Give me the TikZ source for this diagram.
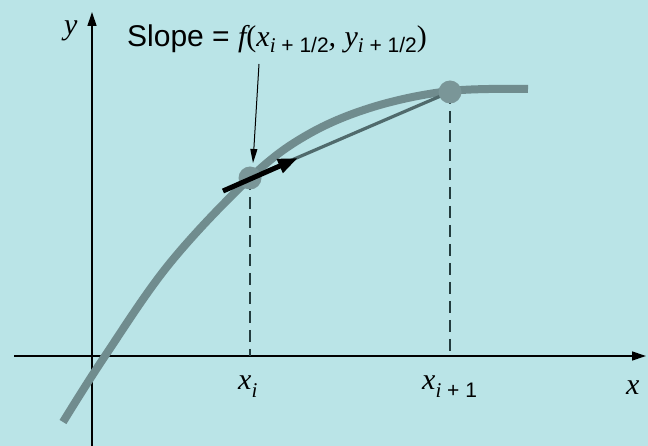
\documentclass[tikz,border=0pt]{standalone}
\usepackage{fontspec}
\setmainfont{Liberation Sans}
\newfontfamily\tim{Liberation Serif}
\usetikzlibrary{arrows.meta}
\definecolor{bgc}{RGB}{186,228,231}
\definecolor{curvec}{RGB}{112,140,142}
\definecolor{dotc}{RGB}{122,150,152}
\definecolor{slc}{RGB}{80,106,108}
\definecolor{dashc}{RGB}{35,60,62}
\newcommand\mi[1]{{\tim\itshape #1}}
\newcommand\sbs[2]{\raisebox{-#1}{\fontsize{21}{21}\selectfont #2}}
\tikzset{
  axis/.style={line width=1.3pt, black, -{Triangle[length=14pt,width=9pt]}},
  curvest/.style={line width=8pt, curvec},
  dashln/.style={line width=2.2pt, dashc, dash pattern=on 12pt off 7pt},
  dotst/.style={circle, fill=dotc, minimum size=23pt, inner sep=0pt},
  slst/.style={line width=3.2pt, slc},
  tanst/.style={line width=5pt, black, -{Triangle[length=20pt,width=14pt]}},
  lblarr/.style={line width=1pt, black, -{Triangle[length=14pt,width=7pt]}},
  txt/.style={inner sep=0pt, anchor=base west, font=\fontsize{30}{30}\selectfont}
}
\begin{document}
\begin{tikzpicture}[x=1pt,y=-1pt]
\useasboundingbox (0,0) rectangle (648,446);
\fill[bgc] (0,0) rectangle (648,446);
% axes
\coordinate (xs) at (14,356);
\coordinate (xe) at (646,356);
\coordinate (ys) at (92,446);
\coordinate (ye) at (92,12);
\draw[axis] (xs) -- (xe);
\draw[axis] (ys) -- (ye);
% points on the axis
\coordinate (b1) at (250,356);
\coordinate (b2) at (450,356);
\coordinate (p1) at (250,178);
\coordinate (p2) at (450,92);
% dashed verticals
\draw[dashln] (p1) -- (b1);
\draw[dashln] (p2) -- (b2);
% curve
\draw[curvest, line cap=butt] plot[smooth, tension=0.6] coordinates {(63,422) (105,356) (170,263) (250,178) (307,135) (373,107) (450,91) (528,89)};
% slope line
\draw[slst] (p1) -- (p2);
% dots
\node[dotst] (d1) at (p1) {};
\node[dotst] (d2) at (p2) {};
% tangent arrow
\coordinate (t0) at (223,191);
\coordinate (t1) at (298,158);
\draw[tanst] (t0) -- (t1);
% label
\node[txt] (lab) at (127,47) {Slope = \mi{f}{\tim(}\mi{x}\sbs{6pt}{\mi{i} + 1/2}\mi{,} \mi{y}\sbs{6pt}{\mi{i} + 1/2}{\tim)}};
\coordinate (la) at (259,64);
\coordinate (lb) at (253,163);
\draw[lblarr] (la) -- (lb);
% axis labels
\node[txt] (ly) at (64,35) {\mi{y}};
\node[txt] (lxi) at (238,389) {\mi{x}\sbs{8pt}{\mi{i}}};
\node[txt] (lxi1) at (422,389) {\mi{x}\sbs{8pt}{\mi{i} + 1}};
\node[txt] (lx) at (626,394) {\mi{x}};
\end{tikzpicture}
\end{document}
